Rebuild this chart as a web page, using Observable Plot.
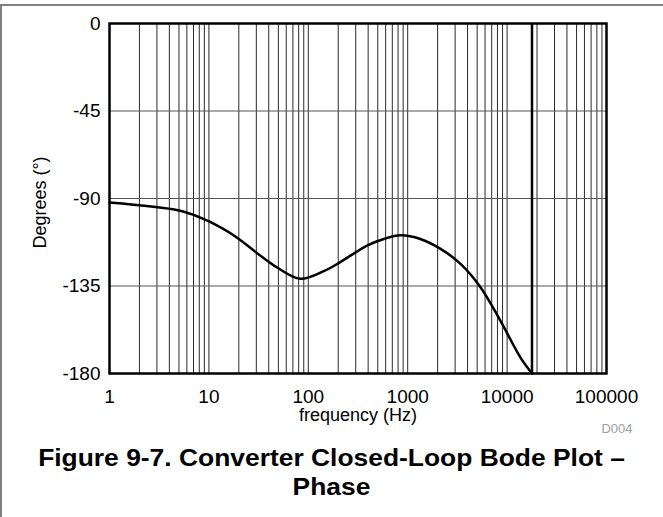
<!DOCTYPE html>
<html><head><meta charset="utf-8">
<script src="https://cdn.jsdelivr.net/npm/d3@7"></script>
<script src="https://cdn.jsdelivr.net/npm/@observablehq/plot@0.6"></script>
<style>
body{margin:0;background:#fff;font-family:"Liberation Sans",Arial,sans-serif;}
#wrap{position:relative;width:663px;height:517px;overflow:hidden;background:#fff;}
#border{position:absolute;left:0;top:4px;width:663px;height:513px;border-top:2px solid #808080;border-left:2px solid #808080;box-sizing:border-box;}
#chart{position:absolute;left:0;top:0;}
#title{position:absolute;left:0;top:443px;width:663px;text-align:center;font-weight:bold;font-size:24px;line-height:29px;color:#000;}
#title .t{transform:scaleX(1.1);transform-origin:50% 50%;}
</style></head><body>
<div id="wrap"><div id="border"></div><div id="chart"></div>
<div id="title"><div class="t">Figure 9-7. Converter Closed-Loop Bode Plot –</div><div class="t">Phase</div></div></div>
<script>
// Frequency (Hz) and phase (degrees)
const freq  = [1, 5, 8.2, 10.4, 17.7, 30.6, 48.6, 83, 143, 210, 390, 575, 850, 1340, 2140, 3400, 5400, 8550, 13600, 17800];
const phase = [-92.1, -96.2, -99.8, -102.2, -108.9, -118.1, -125.5, -131.3, -127.4, -122.7, -114.2, -110.8, -108.9, -110.8, -115.9, -123.6, -135.6, -152.8, -171.7, -180];
// Phase wrap (jump from -180 back to 0 region) frequency
const wrapFreq = [17800];
// Tick labels
const xTicks = [1, 10, 100, 1000, 10000, 100000];
const yTicks = [0, -45, -90, -135, -180];
const yGrid = [-45, -90, -135];
const decades = [1, 10, 100, 1000, 10000];
const multipliers = [1, 2, 3, 4, 5, 6, 7, 8, 9];

const gridFreq = decades.flatMap(d => multipliers.map(m => m * d)).concat([100000]);
const data = freq.map((f, i) => ({f, p: phase[i]}));

const chart = Plot.plot({
  width: 663, height: 440,
  marginTop: 23, marginRight: 57, marginBottom: 67, marginLeft: 109,
  style: {fontFamily: "Liberation Sans, Arial, sans-serif", fontSize: "19px", color: "#000", background: "transparent"},
  x: {type: "log", domain: [1, 100000]},
  y: {domain: [-180, 0]},
  marks: [
    Plot.ruleX(gridFreq, {stroke: "#2a2a2a", strokeWidth: 1}),
    Plot.ruleY(yGrid, {stroke: "#555", strokeWidth: 1}),
    Plot.axisX({ticks: xTicks, tickSize: 0, tickPadding: 16, tickFormat: d => String(d), label: null, fontSize: 19}),
    Plot.axisY({ticks: yTicks, tickSize: 0, tickPadding: 9, tickFormat: d => String(d), label: null, fontSize: 19}),
    Plot.line(data, {x: "f", y: "p", curve: "catmull-rom", stroke: "#000", strokeWidth: 2.5}),
    Plot.ruleX(wrapFreq, {y1: -180, y2: 0, stroke: "#000", strokeWidth: 2.5}),
    Plot.frame({stroke: "#000", strokeWidth: 2.5}),
    Plot.text(["frequency (Hz)"], {text: d => d, frameAnchor: "bottom", textAnchor: "middle", lineAnchor: "middle", dy: 42, fontSize: 18, fill: "#000"}),
    Plot.text(["Degrees (°)"], {text: d => d, frameAnchor: "left", textAnchor: "middle", lineAnchor: "middle", dx: -69, dy: 4, rotate: -90, fontSize: 18, fill: "#000"}),
    Plot.text(["D004"], {text: d => d, frameAnchor: "bottom-right", textAnchor: "end", lineAnchor: "middle", dx: 26, dy: 55, fontSize: 13, fill: "#a0a0a0"})
  ]
});
document.getElementById("chart").appendChild(chart);
</script>
</body></html>
